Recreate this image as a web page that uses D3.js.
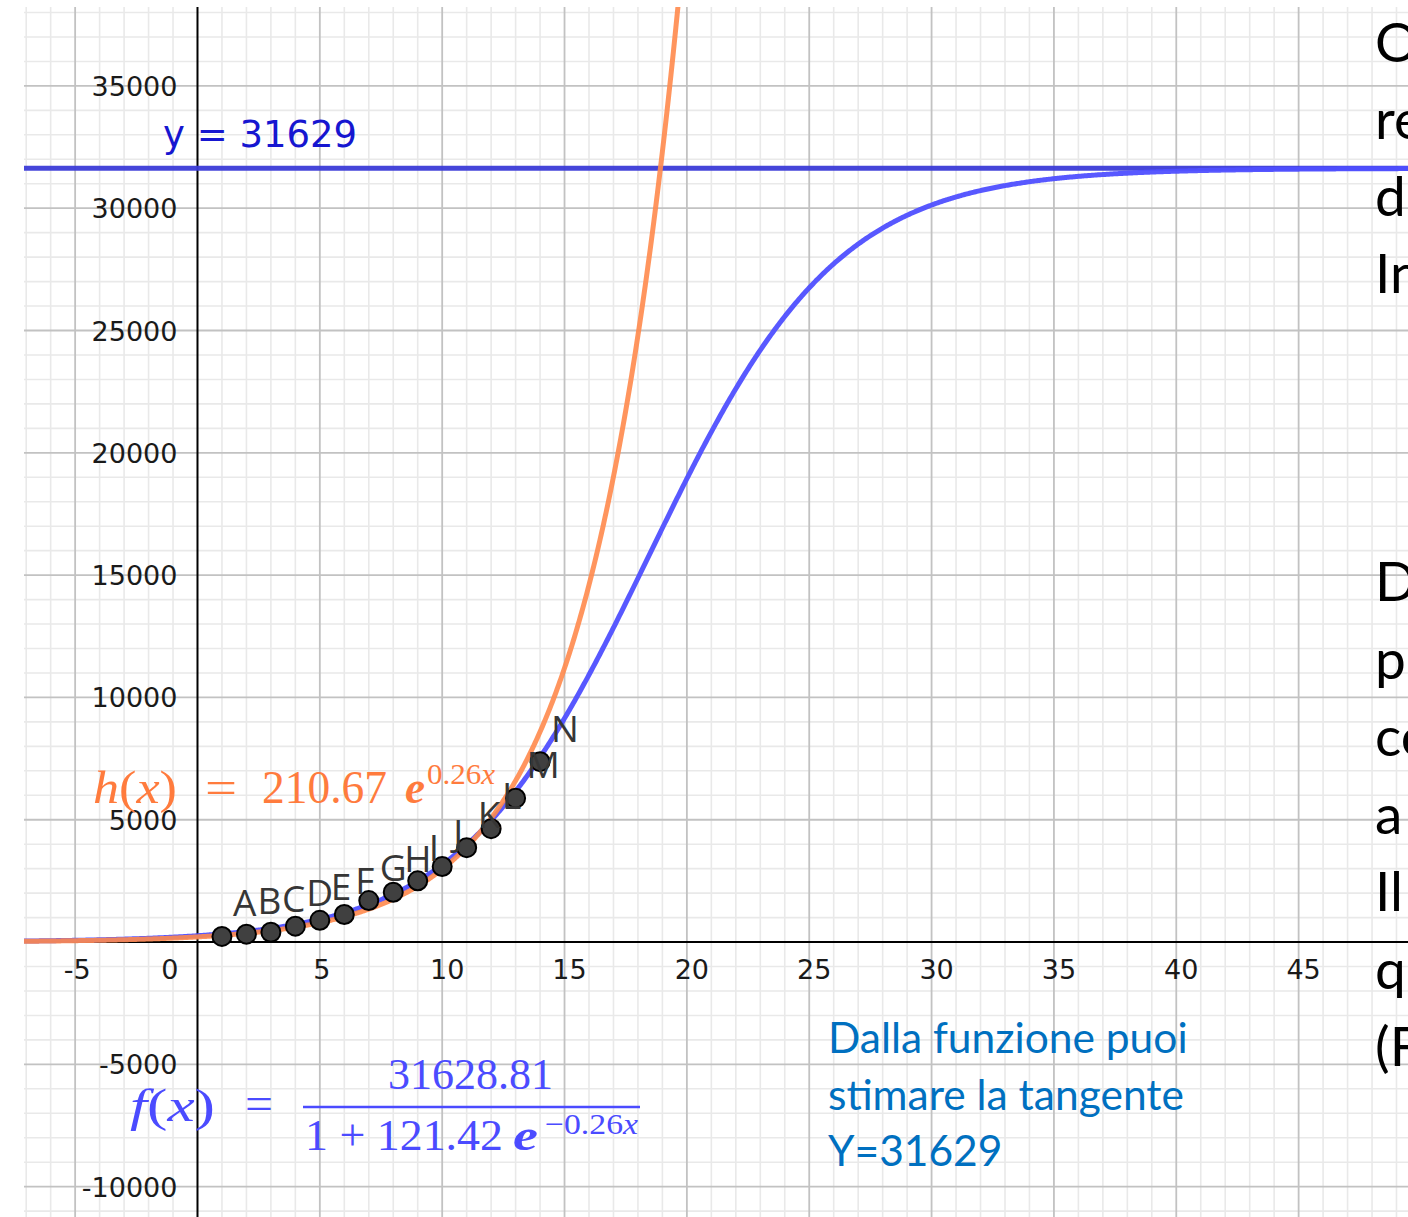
<!DOCTYPE html>
<html>
<head>
<meta charset="utf-8">
<script src="https://cdn.jsdelivr.net/npm/d3@7"></script>
<style>
	body { margin: 0; background: #fff; }
	svg { display: block; }
</style>
</head>
<body>
<div id="chart"></div>
<script>
// Data points (A..N): day index and cumulative cases
const pointNames = ['A', 'B', 'C', 'D', 'E', 'F', 'G', 'H', 'I', 'J', 'K', 'L', 'M', 'N'];
const dayIndex = [1, 2, 3, 4, 5, 6, 7, 8, 9, 10, 11, 12, 13, 14];
const cases = [229, 322, 400, 650, 888, 1128, 1694, 2036, 2502, 3089, 3858, 4636, 5883, 7375];

const expParams = [210.67, 0.2649];            // h(x) = a e^(b x)
const logisticParams = [31628.81, 121.42, 0.26]; // f(x) = L / (1 + c e^(-b x))
const asymptote = [31629];

// Axis ticks
const xTicks = [-5, 0, 5, 10, 15, 20, 25, 30, 35, 40, 45];
const yTicks = [-10000, -5000, 5000, 10000, 15000, 20000, 25000, 30000, 35000];

// Texts
const noteLines = ['Dalla funzione puoi', 'stimare la tangente', 'Y=31629'];
const sideTop = ['O', 're', 'd', 'In'];
const sideBottom = ['D', 'p', 'co', 'a', 'Il', 'q', '(F'];

const width = 1408, height = 1217;
const plot = { left: 24, top: 7, right: 1408, bottom: 1217 };

const svg = d3
	.select('#chart')
	.append('svg')
	.attr('width', width)
	.attr('height', height);

const x = d3.scaleLinear().domain([-7.09, 49.47]).range([plot.left, plot.right]);
const y = d3.scaleLinear().domain([-11240, 38225]).range([plot.bottom, plot.top]);

// Grid
const grid = svg.append('g').attr('class', 'grid');
const minorX = d3.range(-7, 50, 1).filter(v => v % 5 !== 0);
const minorY = d3.range(-11000, 39000, 1000).filter(v => v % 5000 !== 0);
const majorX = d3.range(-5, 50, 5).filter(v => v !== 0);
const majorY = d3.range(-10000, 40000, 5000).filter(v => v !== 0);

grid.selectAll('.minor-x').data(minorX).enter().append('line')
	.attr('x1', d => x(d)).attr('x2', d => x(d))
	.attr('y1', plot.top).attr('y2', plot.bottom)
	.attr('stroke', '#e9e9e9').attr('stroke-width', 1.6);
grid.selectAll('.minor-y').data(minorY).enter().append('line')
	.attr('y1', d => y(d)).attr('y2', d => y(d))
	.attr('x1', plot.left).attr('x2', plot.right)
	.attr('stroke', '#e9e9e9').attr('stroke-width', 1.6);
grid.selectAll('.major-x').data(majorX).enter().append('line')
	.attr('x1', d => x(d)).attr('x2', d => x(d))
	.attr('y1', plot.top).attr('y2', plot.bottom)
	.attr('stroke', '#c2c2c2').attr('stroke-width', 1.8);
grid.selectAll('.major-y').data(majorY).enter().append('line')
	.attr('y1', d => y(d)).attr('y2', d => y(d))
	.attr('x1', plot.left).attr('x2', plot.right)
	.attr('stroke', '#c2c2c2').attr('stroke-width', 1.8);

// Axes
svg.append('line')
	.attr('x1', plot.left).attr('x2', plot.right)
	.attr('y1', y(0)).attr('y2', y(0))
	.attr('stroke', '#000').attr('stroke-width', 2);
svg.append('line')
	.attr('x1', x(0)).attr('x2', x(0))
	.attr('y1', plot.top).attr('y2', plot.bottom)
	.attr('stroke', '#000').attr('stroke-width', 2);

const tickFont = "'DejaVu Sans', sans-serif";
svg.append('g').selectAll('text').data(xTicks).enter().append('text')
	.attr('x', d => (d === 0 ? x(0) - 19 : x(d) + (d >= 10 ? 5 : 2)))
	.attr('y', y(0) + 37)
	.attr('text-anchor', d => (d === 0 ? 'end' : 'middle'))
	.attr('font-family', tickFont).attr('font-size', 27).attr('fill', '#1a1a1a')
	.text(d => String(d));
svg.append('g').selectAll('text').data(yTicks).enter().append('text')
	.attr('x', x(0) - 20)
	.attr('y', d => y(d) + 10)
	.attr('text-anchor', 'end')
	.attr('font-family', tickFont).attr('font-size', 27).attr('fill', '#1a1a1a')
	.text(d => String(d));

// Curves
svg.append('defs').append('clipPath').attr('id', 'clip')
	.append('rect')
	.attr('x', plot.left).attr('y', plot.top)
	.attr('width', plot.right - plot.left).attr('height', plot.bottom - plot.top);
const curves = svg.append('g').attr('clip-path', 'url(#clip)');

const xs = d3.range(-7.2, 49.6, 0.05);
const hFn = t => expParams[0] * Math.exp(expParams[1] * t);
const fFn = t => logisticParams[0] / (1 + logisticParams[1] * Math.exp(-logisticParams[2] * t));
const line = d3.line().x(d => x(d[0])).y(d => y(d[1]));

curves.append('line')
	.attr('x1', plot.left).attr('x2', plot.right)
	.attr('y1', y(asymptote[0])).attr('y2', y(asymptote[0]))
	.attr('stroke', '#3c3cd8').attr('stroke-width', 5).attr('opacity', 0.95);

curves.append('path')
	.datum(xs.map(t => [t, fFn(t)]))
	.attr('d', line)
	.attr('fill', 'none')
	.attr('stroke', '#4f4fff')
	.attr('stroke-width', 5)
	.attr('opacity', 0.95);

curves.append('path')
	.datum(xs.filter(t => hFn(t) < 40000).map(t => [t, hFn(t)]))
	.attr('d', line)
	.attr('fill', 'none')
	.attr('stroke', '#ff8a4c')
	.attr('stroke-width', 5)
	.attr('opacity', 0.9);

// Points
const pts = dayIndex.map((d, i) => ({ name: pointNames[i], x: d, y: cases[i] }));
svg.append('g').selectAll('circle').data(pts).enter().append('circle')
	.attr('cx', d => x(d.x)).attr('cy', d => y(d.y))
	.attr('r', 9.5)
	.attr('fill', '#404040')
	.attr('stroke', '#000').attr('stroke-width', 2);
svg.append('g').selectAll('text').data(pts).enter().append('text')
	.attr('x', d => x(d.x) + 11)
	.attr('y', d => y(d.y) - 20)
	.attr('font-family', "'Open Sans', sans-serif").attr('font-size', 37)
	.attr('fill', '#363636')
	.text(d => d.name);

// y = 31629 label
svg.append('text')
	.attr('x', 163).attr('y', 147)
	.attr('font-family', tickFont).attr('font-size', 37)
	.attr('fill', '#1616d0')
	.text('y = ' + asymptote[0]);

// Formula helper
const serif = "'Liberation Serif', 'DejaVu Serif', serif";
const addTex = (g, parts, px, py, size, len) => {
	const t = g.append('text')
		.attr('x', px).attr('y', py)
		.attr('font-family', serif).attr('font-size', size)
		.attr('textLength', len).attr('lengthAdjust', 'spacingAndGlyphs');
	parts.forEach(p => {
		const s = t.append('tspan').text(p[0]);
		if (p[1] === 'i') s.attr('font-style', 'italic');
		if (p[1] === 'bi') s.attr('font-style', 'italic').attr('font-weight', 'bold');
	});
	return t;
};

// h(x) formula
const hG = svg.append('g').attr('fill', '#ff7b3d');
addTex(hG, [['h', 'i'], ['('], ['x', 'i'], [')']], 93, 803, 46, 84);
addTex(hG, [['=']], 205, 803, 46, 32);
addTex(hG, [[expParams[0].toFixed(2)]], 262, 803, 46, 125);
addTex(hG, [['e', 'bi']], 405, 803, 46, 20);
addTex(hG, [['0.26'], ['x', 'i']], 427, 784, 30, 68);

// f(x) formula
const fG = svg.append('g').attr('fill', '#4b4bff');
addTex(fG, [['f', 'i'], ['('], ['x', 'i'], [')']], 130, 1121, 46, 85);
addTex(fG, [['=']], 245, 1119, 46, 28);
addTex(fG, [[logisticParams[0].toFixed(2)]], 388, 1089, 44, 165);
fG.append('line')
	.attr('x1', 303).attr('x2', 640)
	.attr('y1', 1107).attr('y2', 1107)
	.attr('stroke', '#4b4bff').attr('stroke-width', 2.5);
addTex(fG, [['1 + ' + logisticParams[1].toFixed(2)]], 305, 1150, 44, 198);
addTex(fG, [['e', 'bi']], 513, 1150, 44, 25);
addTex(fG, [['\u22120.26'], ['x', 'i']], 545, 1134, 30, 93);

// Note text
svg.append('g').selectAll('text').data(noteLines).enter().append('text')
	.attr('x', 828)
	.attr('y', (d, i) => 1053 + i * 56.5)
	.attr('font-family', "Lato, 'Open Sans', sans-serif").attr('font-size', 42.5)
	.attr('fill', '#0070c0')
	.text(d => d);

// Side text (cut by the page edge)
const sideFont = "Lato, 'Open Sans', sans-serif";
svg.append('g').selectAll('text').data(sideTop).enter().append('text')
	.attr('x', 1375).attr('y', (d, i) => 62 + i * 77)
	.attr('font-family', sideFont).attr('font-size', 55).attr('fill', '#000')
	.text(d => d);
svg.append('g').selectAll('text').data(sideBottom).enter().append('text')
	.attr('x', 1375).attr('y', (d, i) => 601 + i * 77.5)
	.attr('font-family', sideFont).attr('font-size', 55).attr('fill', '#000')
	.text(d => d);
</script>
</body>
</html>
